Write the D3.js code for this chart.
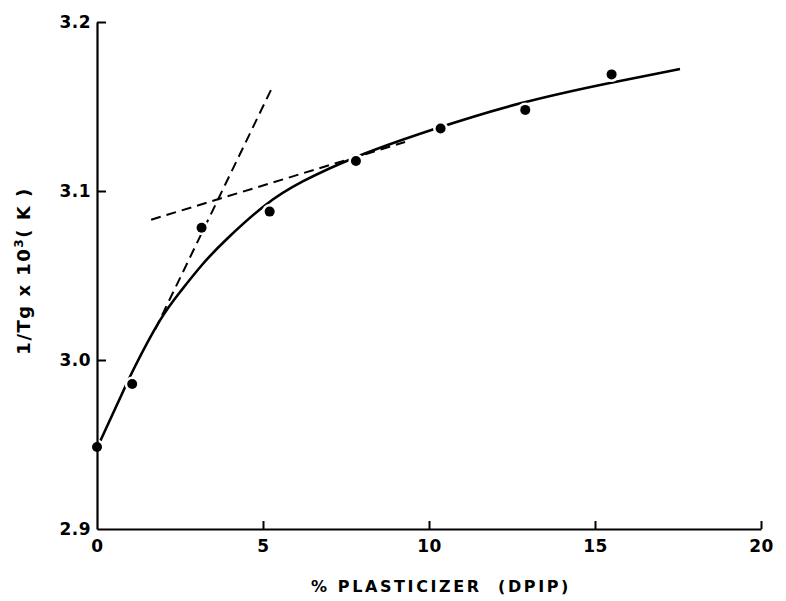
<!DOCTYPE html>
<html>
<head>
<meta charset="utf-8">
<script src="https://cdn.jsdelivr.net/npm/d3@7"></script>
<style>
  body { margin: 0; background: #fff; }
  svg text { font-family: "DejaVu Sans", sans-serif; font-weight: bold; fill: #000; }
</style>
</head>
<body>
<svg id="chart" width="786" height="601"></svg>
<script>
// measured points
const pctPlasticizer = [0, 1.06, 3.15, 5.2, 7.8, 10.35, 12.9, 15.5];
const invTg = [2.9485, 2.9858, 3.0783, 3.0878, 3.1178, 3.137, 3.148, 3.169];

// hand-drawn fitted curve
const curveX = [0, 0.78, 1.05, 1.93, 2.5, 3.19, 3.86, 5.12, 6.11, 7.71, 10.03, 12.74, 15.54, 17.56];
const curveY = [2.9479, 2.9811, 2.9929, 3.026, 3.0402, 3.0574, 3.071, 3.0935, 3.1053, 3.1201, 3.1361, 3.1527, 3.1645, 3.1722];

// dashed tangent lines
const steepX = [1.75, 5.27];
const steepY = [3.018, 3.161];
const shallowX = [1.63, 9.28];
const shallowY = [3.083, 3.129];

const xTicks = [0, 5, 10, 15, 20];
const yTicks = [2.9, 3.0, 3.1, 3.2];

const svg = d3.select('#chart');

const x = d3.scaleLinear().domain([0, 20]).range([97, 761]);
const y = d3.scaleLinear().domain([2.9, 3.2]).range([529, 22]);

// solid curve
svg.append('path')
  .datum(d3.zip(curveX, curveY))
  .attr('fill', 'none')
  .attr('stroke', '#000')
  .attr('stroke-width', 2.6)
  .attr('d', d3.line().x(d => x(d[0])).y(d => y(d[1])).curve(d3.curveBasis));

// dashed lines
[[steepX, steepY], [shallowX, shallowY]].forEach(([xs, ys]) => {
  svg.append('path')
    .datum(d3.zip(xs, ys))
    .attr('fill', 'none')
    .attr('stroke', '#000')
    .attr('stroke-width', 2)
    .attr('stroke-dasharray', '10,6')
    .attr('d', d3.line().x(d => x(d[0])).y(d => y(d[1])));
});

// white halo so the curve breaks at the dots
svg.selectAll('.halo')
  .data(d3.zip(pctPlasticizer, invTg))
  .enter()
  .append('circle')
  .attr('class', 'halo')
  .attr('cx', d => x(d[0]))
  .attr('cy', d => y(d[1]))
  .attr('r', 7.5)
  .attr('fill', '#fff');

// axes
const xAxis = svg.append('g')
  .attr('transform', `translate(0,${y(2.9)})`)
  .call(d3.axisBottom(x).tickValues(xTicks).tickSize(-8).tickPadding(11).tickSizeOuter(0).tickFormat(d3.format('d')));

const yAxis = svg.append('g')
  .attr('transform', `translate(${x(0)},0)`)
  .call(d3.axisLeft(y).tickValues(yTicks).tickSize(-9).tickPadding(6).tickSizeOuter(0).tickFormat(d3.format('.1f')));

[xAxis, yAxis].forEach(g => {
  g.select('.domain').attr('stroke-width', 2.2);
  g.selectAll('.tick line').attr('stroke-width', 2);
  g.selectAll('.tick text')
    .style('font-size', '17px')
    .style('letter-spacing', '0.5px');
});
// no tick marks at the origin
xAxis.selectAll('.tick').filter(d => d === 0).select('line').remove();
yAxis.selectAll('.tick').filter(d => d === 2.9).select('line').remove();

// dots
svg.selectAll('.dot')
  .data(d3.zip(pctPlasticizer, invTg))
  .enter()
  .append('circle')
  .attr('class', 'dot')
  .attr('cx', d => x(d[0]))
  .attr('cy', d => y(d[1]))
  .attr('r', 5)
  .attr('fill', '#000');

// axis titles
svg.append('text')
  .attr('x', 441)
  .attr('y', 592)
  .attr('text-anchor', 'middle')
  .style('font-size', '16px')
  .style('letter-spacing', '2.6px')
  .style('white-space', 'pre')
  .text('% PLASTICIZER  (DPIP)');

const yTitle = svg.append('text')
  .attr('transform', 'translate(30,271) rotate(-90)')
  .attr('text-anchor', 'middle')
  .style('font-size', '18px')
  .style('letter-spacing', '1.5px');
yTitle.append('tspan').text('1/Tg x 10');
yTitle.append('tspan').attr('dy', -7).style('font-size', '12px').text('3');
yTitle.append('tspan').attr('dy', 7).text('( K )');
</script>
</body>
</html>
